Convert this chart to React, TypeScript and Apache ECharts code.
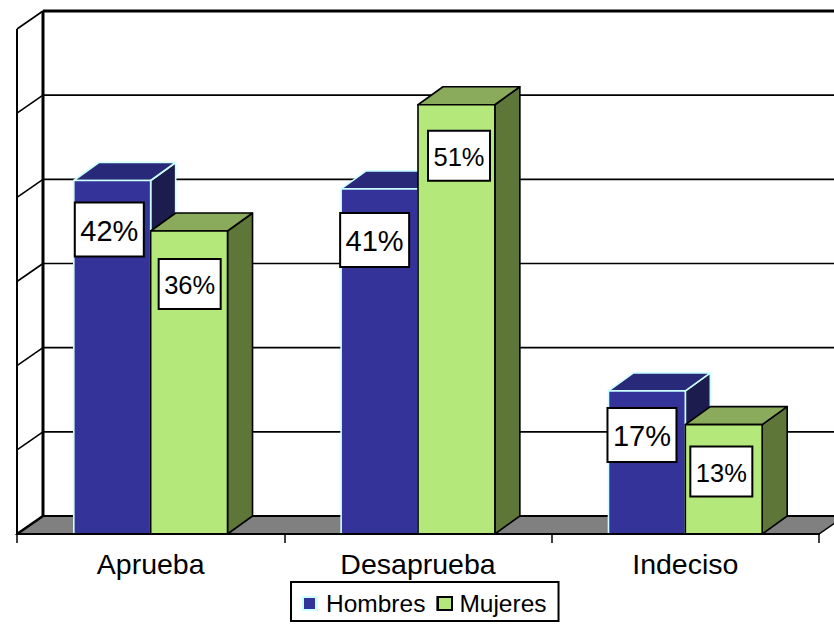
import React, { useEffect, useRef } from "react";
import * as echarts from "echarts";

const categories = ["Aprueba", "Desaprueba", "Indeciso"];
const hombres = [42, 41, 17];
const mujeres = [36, 51, 13];
const ticks = [10, 20, 30, 40, 50, 60];

const FONT = '"Liberation Sans", Arial, sans-serif';
const DX = 26;
const DY = -18;
const BAND_FRACTION = 0.2875;

function wallsRender(params: any, api: any) {
  const cs = params.coordSys;
  const left = cs.x;
  const right = cs.x + cs.width;
  const base = api.coord([0, 0])[1];
  const line = (x1: number, y1: number, x2: number, y2: number, w: number) => ({
    type: "line",
    shape: { x1, y1, x2, y2 },
    style: { stroke: "#000", lineWidth: w, fill: "none" },
  });
  const children: any[] = [
    {
      type: "polygon",
      shape: {
        points: [
          [left, base],
          [left + DX, base + DY],
          [right + DX, base + DY],
          [right, base],
        ],
      },
      style: { fill: "#808080", stroke: "#000", lineWidth: 1.5 },
    },
    line(left + DX, base + DY, right + DX, base + DY, 2),
    line(left, base, left + DX, base + DY, 2.5),
    line(left + DX, base + DY, left + DX, cs.y + DY, 3),
    line(left, base, left, cs.y, 2),
  ];
  ticks.forEach((t) => {
    const y = api.coord([0, t])[1];
    const top = t === ticks[ticks.length - 1];
    children.push(line(left, y, left + DX, y + DY, 1.6));
    children.push(line(left + DX, y + DY, right + DX, y + DY, top ? 3 : 1.6));
  });
  return { type: "group", children };
}

function barRender(opts: {
  side: -1 | 0;
  face: string;
  top: string;
  right: string;
  stroke: string;
  boxOffsetX: number[];
  boxOffsetY: number[];
  boxW: number;
  boxH: number;
  fontSize: number;
}) {
  return (params: any, api: any) => {
    const i = api.value(0);
    const v = api.value(1);
    const [cx, yTop] = api.coord([i, v]);
    const yBase = api.coord([i, 0])[1];
    const w = api.size([1, 0])[0] * BAND_FRACTION;
    const x0 = cx + opts.side * w;
    const x1 = x0 + w;
    const style = (fill: string) => ({
      fill,
      stroke: opts.stroke,
      lineWidth: 1.6,
      lineJoin: "round",
    });
    const boxX = x0 + opts.boxOffsetX[params.dataIndex];
    const boxY = yTop + opts.boxOffsetY[params.dataIndex];
    return {
      type: "group",
      children: [
        {
          type: "polygon",
          shape: { points: [[x1, yBase], [x1 + DX - 1, yBase + DY], [x1 + DX - 1, yTop + DY], [x1, yTop]] },
          style: style(opts.right),
        },
        {
          type: "polygon",
          shape: { points: [[x0, yTop], [x0 + DX - 1, yTop + DY], [x1 + DX - 1, yTop + DY], [x1, yTop]] },
          style: style(opts.top),
        },
        {
          type: "rect",
          shape: { x: x0, y: yTop, width: w, height: yBase - yTop },
          style: style(opts.face),
        },
        {
          type: "rect",
          shape: { x: boxX, y: boxY, width: opts.boxW, height: opts.boxH },
          style: { fill: "#fff", stroke: "#000", lineWidth: 2 },
        },
        {
          type: "text",
          style: {
            x: boxX + opts.boxW / 2,
            y: boxY + opts.boxH / 2 + 1,
            text: `${v}%`,
            align: "center",
            verticalAlign: "middle",
            fill: "#000",
            font: `${opts.fontSize}px ${FONT}`,
          },
        },
      ],
    };
  };
}

export default function App() {
  const ref = useRef<HTMLDivElement>(null);
  useEffect(() => {
    document.body.style.margin = "0";
    document.body.style.background = "#fff";
    const chart = echarts.init(ref.current!, undefined, { renderer: "svg" });
    chart.setOption({
      animation: false,
      backgroundColor: "#fff",
      grid: { left: 17, right: 15, top: 29, bottom: 90, containLabel: false },
      graphic: {
        elements: [
          {
            type: "rect",
            z: 20,
            silent: true,
            shape: { x: 303, y: 597, width: 13, height: 13 },
            style: { fill: "#333399", stroke: "#CCFFFF", lineWidth: 2 },
          },
          {
            type: "rect",
            z: 20,
            silent: true,
            shape: { x: 438, y: 597, width: 14, height: 13 },
            style: { fill: "#B5E87B", stroke: "#000", lineWidth: 2 },
          },
        ],
      },
      legend: {
        data: ["Hombres", "Mujeres"],
        left: 291,
        top: 582,
        orient: "horizontal",
        selectedMode: false,
        backgroundColor: "#fff",
        borderColor: "#000",
        borderWidth: 2,
        borderRadius: 0,
        padding: [9, 12, 5, 12],
        itemWidth: 13,
        itemHeight: 13,
        itemGap: 11,
        icon: "rect",
        textStyle: { fontFamily: FONT, fontSize: 24.5, color: "#000", padding: [0, 0, 0, 4] },
      },
      xAxis: {
        type: "category",
        data: categories,
        z: 5,
        axisLine: { show: true, lineStyle: { color: "#000", width: 2 } },
        axisTick: { show: true, length: 9, alignWithLabel: false, lineStyle: { color: "#000", width: 1.5 } },
        axisLabel: { color: "#000", fontFamily: FONT, fontSize: 28.5, margin: 15 },
        splitLine: { show: false },
      },
      yAxis: {
        type: "value",
        min: 0,
        max: 60,
        interval: 10,
        axisLine: { show: false },
        axisTick: { show: false },
        axisLabel: { show: false },
        splitLine: { show: false },
      },
      series: [
        {
          name: "walls",
          type: "custom",
          renderItem: wallsRender,
          data: [[0, 0]],
          encode: { x: 0, y: 1 },
          silent: true,
          z: 1,
        },
        {
          name: "Hombres",
          type: "custom",
          z: 2,
          itemStyle: { color: "#333399", borderColor: "#CCFFFF", borderWidth: 2 },
          encode: { x: 0, y: 1 },
          data: categories.map((_, i) => [i, hombres[i]]),
          renderItem: barRender({
            side: -1,
            face: "#333399",
            top: "#29297A",
            right: "#1C1C4E",
            stroke: "#CCFFFF",
            boxOffsetX: [1, -1, -1],
            boxOffsetY: [22, 24, 17],
            boxW: 69,
            boxH: 54,
            fontSize: 29,
          }),
        },
        {
          name: "Mujeres",
          type: "custom",
          z: 3,
          itemStyle: { color: "#B5E87B", borderColor: "#000", borderWidth: 2 },
          encode: { x: 0, y: 1 },
          data: categories.map((_, i) => [i, mujeres[i]]),
          renderItem: barRender({
            side: 0,
            face: "#B5E87B",
            top: "#89AB5B",
            right: "#5E7738",
            stroke: "#000",
            boxOffsetX: [8, 10, 5],
            boxOffsetY: [28, 26, 22],
            boxW: 62,
            boxH: 50,
            fontSize: 25.5,
          }),
        },
      ],
    });
    return () => chart.dispose();
  }, []);
  return <div ref={ref} style={{ width: 834, height: 624, overflow: "hidden" }} />;
}
